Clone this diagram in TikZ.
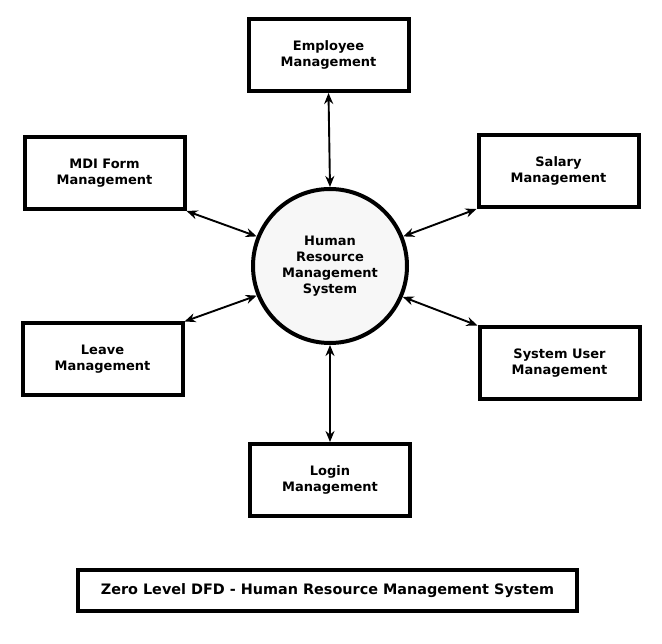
\documentclass[tikz,border=0pt]{standalone}
\usepackage{fontspec}
\setmainfont{DejaVu Sans}
\usetikzlibrary{positioning,arrows.meta}

\begin{document}
\begin{tikzpicture}[x=1pt,y=-1pt,
  procbox/.style={draw, line width=4pt, rectangle, minimum width=160pt, minimum height=72pt, align=center, font=\bfseries\fontsize{13}{16}\selectfont},
  hrmsproc/.style={draw, line width=4pt, circle, minimum size=154pt, fill=black!3, align=center, font=\bfseries\fontsize{13}{16}\selectfont},
  flow/.style={line width=1.9pt, {Stealth[length=11pt,width=9pt]}-{Stealth[length=11pt,width=9pt]}}]

\useasboundingbox (0,0) rectangle (662,644);

% central process
\node[hrmsproc] (hrms) at (330,266) {Human\\Resource\\Management\\System};

% external entities
\node[procbox] (employee) at (328.5,55) {Employee\\Management};
\node[procbox] (mdiform) at (104.5,173) {MDI Form\\Management};
\node[procbox] (salary) at (558.5,171) {Salary\\Management};
\node[procbox] (leave) at (102.5,359.5) {Leave\\Management};
\node[procbox] (sysuser) at (559.5,363.5) {System User\\Management};
\node[procbox] (login) at (330,480) {Login\\Management};

\draw[flow] (employee.south) -- (hrms.north);
\draw[flow] (mdiform.south east) -- (hrms.158);
\draw[flow] (salary.south west) -- (hrms.22);
\draw[flow] (leave.north east) -- (hrms.202);
\draw[flow] (sysuser.north west) -- (hrms.-23);
\draw[flow] (hrms.south) -- (login.north);

% caption
\node[draw, line width=4pt, minimum width=499pt, minimum height=41pt, font=\bfseries\fontsize{14.4}{17}\selectfont] (caption) at (327.5,590.5) {Zero Level DFD - Human Resource Management System};

\end{tikzpicture}
\end{document}
